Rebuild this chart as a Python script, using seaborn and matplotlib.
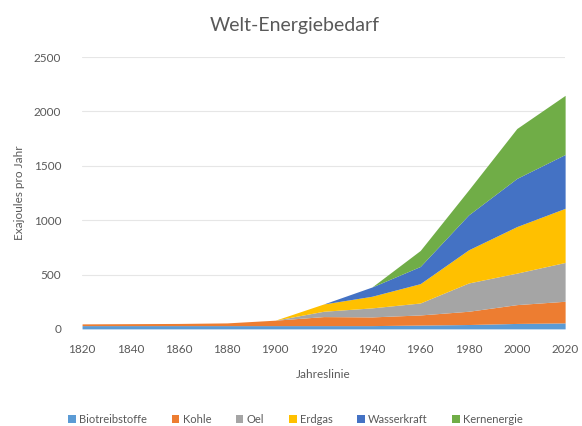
import numpy as np
import pandas as pd
import matplotlib
matplotlib.use("Agg")
import matplotlib.pyplot as plt
import seaborn as sns

# values (exajoules per year, every 20 years)
years = [1820, 1840, 1860, 1880, 1900, 1920, 1940, 1960, 1980, 2000, 2020]
biotreibstoffe = [30, 30, 30, 30, 30, 30, 30, 35, 40, 50, 55]
kohle = [16, 18, 20, 25, 50, 83, 80, 93, 122, 173, 199]
oel = [0, 0, 0, 0, 0, 49, 83, 110, 260, 290, 357]
erdgas = [0, 0, 0, 0, 0, 67, 107, 178, 305, 428, 498]
wasserkraft = [0, 0, 0, 0, 0, 0, 85, 158, 321, 443, 495]
kernenergie = [0, 0, 0, 0, 0, 0, 0, 147, 229, 459, 544]

labels = ["Biotreibstoffe", "Kohle", "Oel", "Erdgas", "Wasserkraft", "Kernenergie"]
colors = ["#5B9BD5", "#ED7D31", "#A5A5A5", "#FFC000", "#4472C4", "#70AD47"]

df = pd.DataFrame({"Jahr": years, "Biotreibstoffe": biotreibstoffe, "Kohle": kohle,
                   "Oel": oel, "Erdgas": erdgas, "Wasserkraft": wasserkraft,
                   "Kernenergie": kernenergie})

sns.set_theme(style="white", palette=sns.color_palette(colors))
plt.rcParams["font.family"] = ["Lato", "DejaVu Sans"]
grey = "#595959"

fig = plt.figure(figsize=(5.82, 4.26), dpi=100)
ax = fig.add_axes([0.141, 0.228, 0.830, 0.638])

ax.stackplot(df["Jahr"], [df[c] for c in labels], labels=labels, colors=colors,
             linewidth=0)

ax.set_xlim(1820, 2020)
ax.set_ylim(0, 2500)
ax.set_xticks(np.arange(1820, 2021, 20))
ax.set_yticks(np.arange(0, 2501, 500))
ax.yaxis.grid(True, color="#E6E6E6", linewidth=0.8)
ax.set_axisbelow(True)
sns.despine(ax=ax, left=True, bottom=True)
ax.tick_params(axis="both", length=0, labelsize=8.5, labelcolor=grey)
ax.tick_params(axis="x", pad=11)
ax.tick_params(axis="y", pad=15)

ax.set_xlabel("Jahreslinie", fontsize=8.5, color=grey, labelpad=10)
ax.set_ylabel("Exajoules pro Jahr", fontsize=8.5, color=grey, labelpad=6)
fig.text(0.507, 0.94, "Welt-Energiebedarf", ha="center", va="center",
         fontsize=14, color=grey)

ax.legend(loc="center", bbox_to_anchor=(0.508, 0.016), bbox_transform=fig.transFigure,
          ncol=6, frameon=False, fontsize=8, handlelength=0.7, handleheight=0.7,
          handletextpad=0.3, columnspacing=2.2, labelcolor=grey)

fig.savefig("out.png", dpi=100)
